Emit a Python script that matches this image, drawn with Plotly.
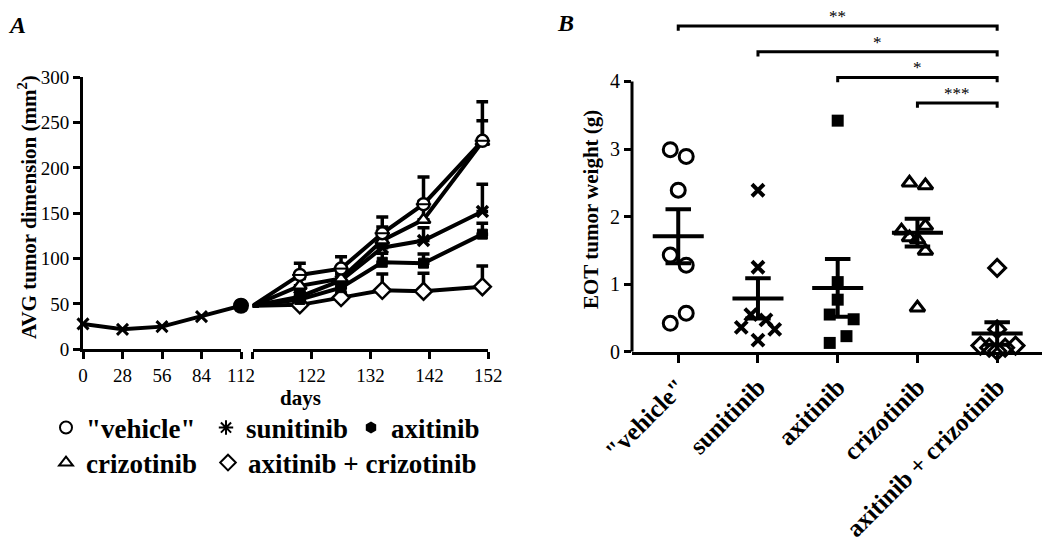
import numpy as np
import plotly.graph_objects as go

# page body adds an 8px margin; size the figure to fit the viewport
OFF = 8
W, H = 1050 - OFF, 549 - OFF
FONT = "Liberation Serif"


def fx(px):
    return min(1.0, (px - OFF) / W)


def fy(py):
    return max(0.0, min(1.0, 1 - (py - OFF) / H))


# ---------------- Panel A data ----------------
baseline_days = [0, 28, 56, 84, 112]
baseline_avg = [28, 22, 25, 36, 48]

treat_days = [112, 120, 127, 134, 141, 151]
groups = ['"vehicle"', 'sunitinib', 'axitinib', 'crizotinib', 'axitinib + crizotinib']
vehicle_avg = [48, 82, 89, 128, 160, 230]
vehicle_sem = [0, 13, 13, 18, 30, 43]
sunitinib_avg = [48, 58, 76, 112, 120, 152]
sunitinib_sem = [0, 6, 8, 12, 14, 30]
axitinib_avg = [48, 55, 68, 96, 95, 127]
axitinib_sem = [0, 5, 6, 10, 10, 12]
crizotinib_avg = [48, 70, 78, 120, 143, 229]
crizotinib_sem = [0, 8, 8, 15, 20, 23]
combo_avg = [48, 49, 57, 65, 64, 69]
combo_sem = [0, 4, 5, 18, 20, 23]

x1_ticks = [0, 28, 56, 84, 112]
x2_ticks = [112, 122, 132, 142, 152]
y1_ticks = [0, 50, 100, 150, 200, 250, 300]

# ---------------- Panel B data ----------------
vehicle_w = [2.99, 2.89, 2.39, 1.43, 1.28, 0.57, 0.42]
vehicle_jit = [-0.1, 0.1, 0.0, -0.1, 0.1, 0.1, -0.1]
sunitinib_w = [2.39, 1.25, 0.55, 0.47, 0.36, 0.33, 0.17]
sunitinib_jit = [0.0, 0.0, -0.09, 0.1, -0.21, 0.21, 0.0]
axitinib_w = [3.42, 1.03, 0.77, 0.55, 0.48, 0.23, 0.13]
axitinib_jit = [0.0, 0.0, 0.0, -0.1, 0.2, 0.11, -0.1]
crizotinib_w = [2.50, 2.46, 1.86, 1.79, 1.69, 1.66, 1.49, 0.65]
crizotinib_jit = [-0.1, 0.1, 0.1, -0.2, -0.1, 0.0, 0.1, 0.0]
combo_w = [1.24, 0.33, 0.09, 0.06, 0.01, 0.06, 0.09]
combo_jit = [0.0, 0.0, -0.21, -0.1, 0.0, 0.1, 0.23]

comparisons = [(0, 4, "**"), (1, 4, "*"), (2, 4, "*"), (3, 4, "***")]
y3_ticks = [0, 1, 2, 3, 4]

fig = go.Figure()

# Panel A styles
a_styles = [
    dict(symbol="circle", color="white", line=dict(color="black", width=2.5), size=12),
    dict(symbol="x-thin", color="black", line=dict(color="black", width=3.5), size=11),
    dict(symbol="square", color="black", line=dict(color="black", width=1), size=10),
    dict(symbol="triangle-up", color="white", line=dict(color="black", width=2.5), size=12),
    dict(symbol="diamond", color="white", line=dict(color="black", width=2.5), size=13),
]
a_avgs = [vehicle_avg, sunitinib_avg, axitinib_avg, crizotinib_avg, combo_avg]
a_sems = [vehicle_sem, sunitinib_sem, axitinib_sem, crizotinib_sem, combo_sem]

# baseline (shared) segment
fig.add_trace(go.Scatter(
    x=baseline_days, y=baseline_avg, xaxis="x", yaxis="y", mode="lines+markers",
    line=dict(color="black", width=4),
    marker=dict(symbol="x-thin", size=11, line=dict(color="black", width=3)),
    cliponaxis=False, showlegend=False, hoverinfo="skip"))
fig.add_trace(go.Scatter(
    x=[112], y=[baseline_avg[-1]], xaxis="x", yaxis="y", mode="markers",
    marker=dict(symbol="circle", size=16, color="black"),
    cliponaxis=False, showlegend=False, hoverinfo="skip"))

order = [4, 2, 1, 3, 0]
for i in order:
    st = dict(a_styles[i])
    st["size"] = [0] + [a_styles[i]["size"]] * (len(treat_days) - 1)
    st["opacity"] = 1
    fig.add_trace(go.Scatter(
        x=treat_days, y=a_avgs[i], xaxis="x2", yaxis="y", mode="lines+markers",
        line=dict(color="black", width=4),
        marker=st,
        error_y=dict(type="data", array=a_sems[i], arrayminus=[0] * len(a_sems[i]),
                     symmetric=False, thickness=3.5, width=6, color="black"),
        cliponaxis=False, showlegend=False, name=groups[i]))
# bar across the "vehicle" circles
fig.add_trace(go.Scatter(
    x=treat_days[1:], y=vehicle_avg[1:], xaxis="x2", yaxis="y", mode="markers",
    marker=dict(symbol="line-ew", size=11, opacity=1, line=dict(color="black", width=2)),
    cliponaxis=False, showlegend=False, hoverinfo="skip"))

# legend-only proxies, one legend per entry
leg_styles = [
    dict(symbol="circle-open", size=11, color="black", line=dict(width=2.5)),
    dict(symbol="asterisk-open", size=12, color="black", line=dict(width=3)),
    dict(symbol="hexagon", size=11, color="black"),
    dict(symbol="triangle-up-open", size=12, color="black", line=dict(width=2.5)),
    dict(symbol="diamond-open", size=12, color="black", line=dict(width=2.5)),
]
leg_names = ["legend", "legend2", "legend3", "legend4", "legend5"]
for i, g in enumerate(groups):
    fig.add_trace(go.Scatter(
        x=[None], y=[None], xaxis="x2", yaxis="y", mode="markers",
        marker=leg_styles[i], name=g, showlegend=True, legend=leg_names[i]))

# ---------------- Panel B traces ----------------
b_vals = [vehicle_w, sunitinib_w, axitinib_w, crizotinib_w, combo_w]
b_jits = [vehicle_jit, sunitinib_jit, axitinib_jit, crizotinib_jit, combo_jit]
b_styles = [
    dict(symbol="circle-open", size=14, color="black", line=dict(width=3)),
    dict(symbol="x-thin-open", size=12, color="black", line=dict(width=4)),
    dict(symbol="square", size=12, color="black"),
    dict(symbol="triangle-up-open", size=13, color="black", line=dict(width=3)),
    dict(symbol="diamond-open", size=13, color="black", line=dict(width=3)),
]
for i, (vals, jit) in enumerate(zip(b_vals, b_jits)):
    v = np.array(vals)
    xs = i + np.array(jit)
    fig.add_trace(go.Scatter(
        x=xs, y=v, xaxis="x3", yaxis="y3", mode="markers", marker=b_styles[i],
        cliponaxis=False, showlegend=False, hoverinfo="skip"))
    m = v.mean()
    sem = v.std(ddof=1) / np.sqrt(len(v))
    hw, cw = 0.32, 0.16
    fig.add_trace(go.Scatter(
        x=[i - hw, i + hw, None, i, i, None, i - cw, i + cw, None, i - cw, i + cw],
        y=[m, m, None, m - sem, m + sem, None, m + sem, m + sem, None, m - sem, m - sem],
        xaxis="x3", yaxis="y3", mode="lines", line=dict(color="black", width=4),
        showlegend=False, hoverinfo="skip"))

shapes = []
# B y-axis line from 0 to 4
shapes.append(dict(type="line", xref="x3 domain", yref="y3", x0=0, x1=0, y0=0, y1=4,
                   line=dict(color="black", width=3)))
annotations = []
top = 4.82
for k, (a, b, star) in enumerate(comparisons):
    yl = top - 0.38 * k
    shapes.append(dict(type="path", xref="x3", yref="y3",
                       path=f"M {a},{yl-0.07} L {a},{yl} L {b},{yl} L {b},{yl-0.07}",
                       line=dict(color="black", width=3)))
    annotations.append(dict(x=(a + b) / 2, y=yl, xref="x3", yref="y3", text=star,
                            showarrow=False, yanchor="bottom", yshift=-2,
                            font=dict(family=FONT, size=17, color="black")))

# titles / panel letters
annotations += [
    dict(x=fx(17), y=fy(10), xref="paper", yref="paper", text="<b><i>A</i></b>",
         showarrow=False, xanchor="center", yanchor="top",
         font=dict(family=FONT, size=24, color="black")),
    dict(x=fx(565), y=fy(2), xref="paper", yref="paper", text="<b><i>B</i></b>",
         showarrow=False, xanchor="center", yanchor="top",
         font=dict(family=FONT, size=24, color="black")),
    dict(x=fx(300), y=fy(398), xref="paper", yref="paper", text="<b>days</b>",
         showarrow=False, xanchor="center", yanchor="middle",
         font=dict(family=FONT, size=21, color="black")),
    dict(x=fx(27), y=fy(207), xref="paper", yref="paper",
         text="<b>AVG tumor dimension (mm<sup>2</sup>)</b>", textangle=-90,
         showarrow=False, xanchor="center", yanchor="middle",
         font=dict(family=FONT, size=21, color="black")),
    dict(x=fx(591), y=fy(210), xref="paper", yref="paper",
         text="<b>EOT tumor weight (g)</b>", textangle=-90,
         showarrow=False, xanchor="center", yanchor="middle",
         font=dict(family=FONT, size=21, color="black")),
]

axis_common = dict(showgrid=False, zeroline=False, showline=True, linecolor="black",
                   linewidth=3, ticks="outside", ticklen=7, tickwidth=3,
                   tickcolor="black", tickfont=dict(family=FONT, size=19, color="black"))

legend_pos = [(46, 428), (206, 428), (351, 428), (46, 463), (208, 463)]
legend_layouts = {}
for name, (lx, ly) in zip(leg_names, legend_pos):
    legend_layouts[name] = dict(
        orientation="h", x=fx(lx), xanchor="left", y=fy(ly), yanchor="middle",
        font=dict(family=FONT, size=27, color="black", weight="bold"),
        bgcolor="rgba(0,0,0,0)", itemsizing="constant")

fig.update_layout(
    width=W, height=H, margin=dict(l=0, r=0, t=0, b=0, autoexpand=False),
    paper_bgcolor="white", plot_bgcolor="white",
    xaxis=dict(domain=[fx(83), fx(241)], range=[0, 112], anchor="y",
               tickvals=x1_ticks, **axis_common),
    xaxis2=dict(domain=[fx(252.7), fx(488.3)], range=[112, 152], anchor="y",
                tickvals=x2_ticks, ticktext=[""] + [str(t) for t in x2_ticks[1:]],
                **axis_common),
    yaxis=dict(domain=[fy(349.3), fy(77.3)], range=[0, 300], anchor="x",
               tickvals=y1_ticks, **axis_common),
    xaxis3=dict(domain=[fx(632), fx(1045)], range=[-0.58, 4.6], anchor="y3",
                tickvals=list(range(len(groups))),
                ticktext=[f"<b>{g}</b>" for g in groups], tickangle=-45,
                showgrid=False, zeroline=False, showline=True, linecolor="black",
                linewidth=3, ticks="outside", ticklen=8, tickwidth=3, tickcolor="black",
                tickfont=dict(family=FONT, size=25, color="black")),
    yaxis3=dict(domain=[fy(351.7), fy(8.5)], range=[0, 5.08], anchor="x3",
                tickvals=y3_ticks, showgrid=False, zeroline=False, showline=False,
                ticks="outside", ticklen=7, tickwidth=3, tickcolor="black",
                tickfont=dict(family=FONT, size=20, color="black")),
    shapes=shapes, annotations=annotations,
    **legend_layouts,
)

fig.write_html("out.html")
